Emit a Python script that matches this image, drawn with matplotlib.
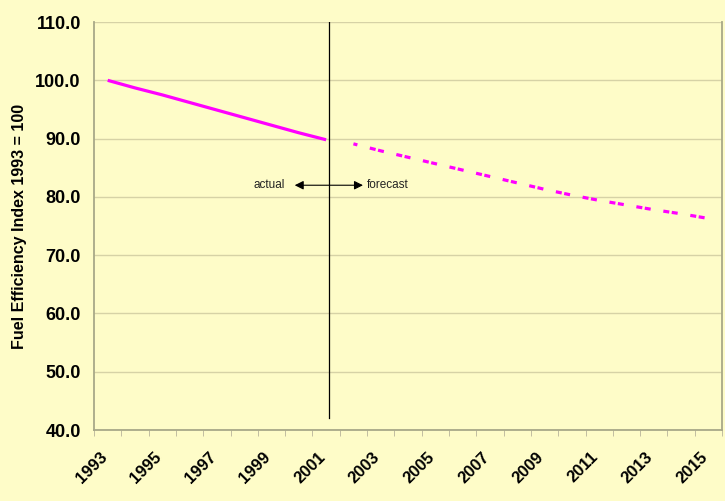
import numpy as np
import matplotlib.pyplot as plt

years = [str(y) for y in range(1993, 2016)]
actual = [100.0, 98.7, 97.5, 96.2, 94.9, 93.6, 92.3, 91.0, 89.8]
forecast = [89.1, 87.9, 86.8, 85.7, 84.6, 83.5, 82.4, 81.3, 80.3, 79.4, 78.6, 77.8, 77.1, 76.3]
split_year = "2001"

bg = '#FEFCC8'
plt.rcParams['font.family'] = ['Liberation Sans', 'DejaVu Sans']

fig = plt.figure(figsize=(7.25, 5.01), dpi=100, facecolor=bg)
ax = fig.add_axes([0.1297, 0.1417, 0.8662, 0.8143], facecolor=bg)

x = np.arange(len(years))
lw = 2.3
ax.plot(x[:len(actual)], actual, color='#FF00FF', lw=lw, solid_capstyle='butt')

# excel-like "dash dash gap" pattern, one repeat per category (px -> pt, divided by lw)
cat_px = fig.get_figwidth() * 100 * 0.8662 / len(years)
px = 72 / 100 / lw
pattern = (6 * px, 2.5 * px, 6 * px, (cat_px - 14.5) * px)
ax.plot(x[len(actual):len(actual) + len(forecast)], forecast, color='#FF00FF', lw=lw,
        linestyle=(10.4 * px, pattern), dash_capstyle='butt')

# actual / forecast divider
xs = years.index(split_year) + 0.1
ax.plot([xs, xs], [110, 42], color='black', lw=0.9)
ax.annotate('', xy=(xs - 1.25, 82.0), xytext=(xs + 1.25, 82.0),
            arrowprops=dict(arrowstyle='<|-|>', color='black', lw=0.8,
                            mutation_scale=13, shrinkA=0, shrinkB=0))
ax.text(xs - 2.2, 82.0, 'actual', ha='center', va='center', fontsize=8.5, color='#222222')
ax.text(xs + 2.15, 82.0, 'forecast', ha='center', va='center', fontsize=8.5, color='#222222')

ax.set_xlim(-0.5, len(years) - 0.5)
ax.set_ylim(40, 110)
ax.set_yticks(np.arange(40, 111, 10))
ax.set_yticklabels([f'{v:.1f}' for v in np.arange(40, 111, 10)], fontsize=13, fontweight='bold')
ax.yaxis.grid(True, color='#D6D2A6', lw=1.0)
ax.set_axisbelow(True)
ax.tick_params(axis='y', length=0, pad=9.5)

ax.set_xticks(x[::2])
ax.set_xticklabels(years[::2], rotation=45, ha='right', va='baseline', rotation_mode='anchor',
                   fontsize=12, fontweight='bold')
ax.set_xticks(np.arange(-0.5, len(years), 1), minor=True)
ax.tick_params(axis='x', which='major', length=0, pad=20)
ax.tick_params(axis='x', which='minor', length=4, color='#B8B49A', direction='out')

for s in ax.spines.values():
    s.set_color('#A8A888')
    s.set_linewidth(1.3)
ax.spines['top'].set_visible(False)

ax.set_ylabel('Fuel Efficiency Index 1993 = 100', fontsize=11.5, fontweight='bold', labelpad=6)

fig.savefig('out.png', dpi=100, facecolor=bg)
